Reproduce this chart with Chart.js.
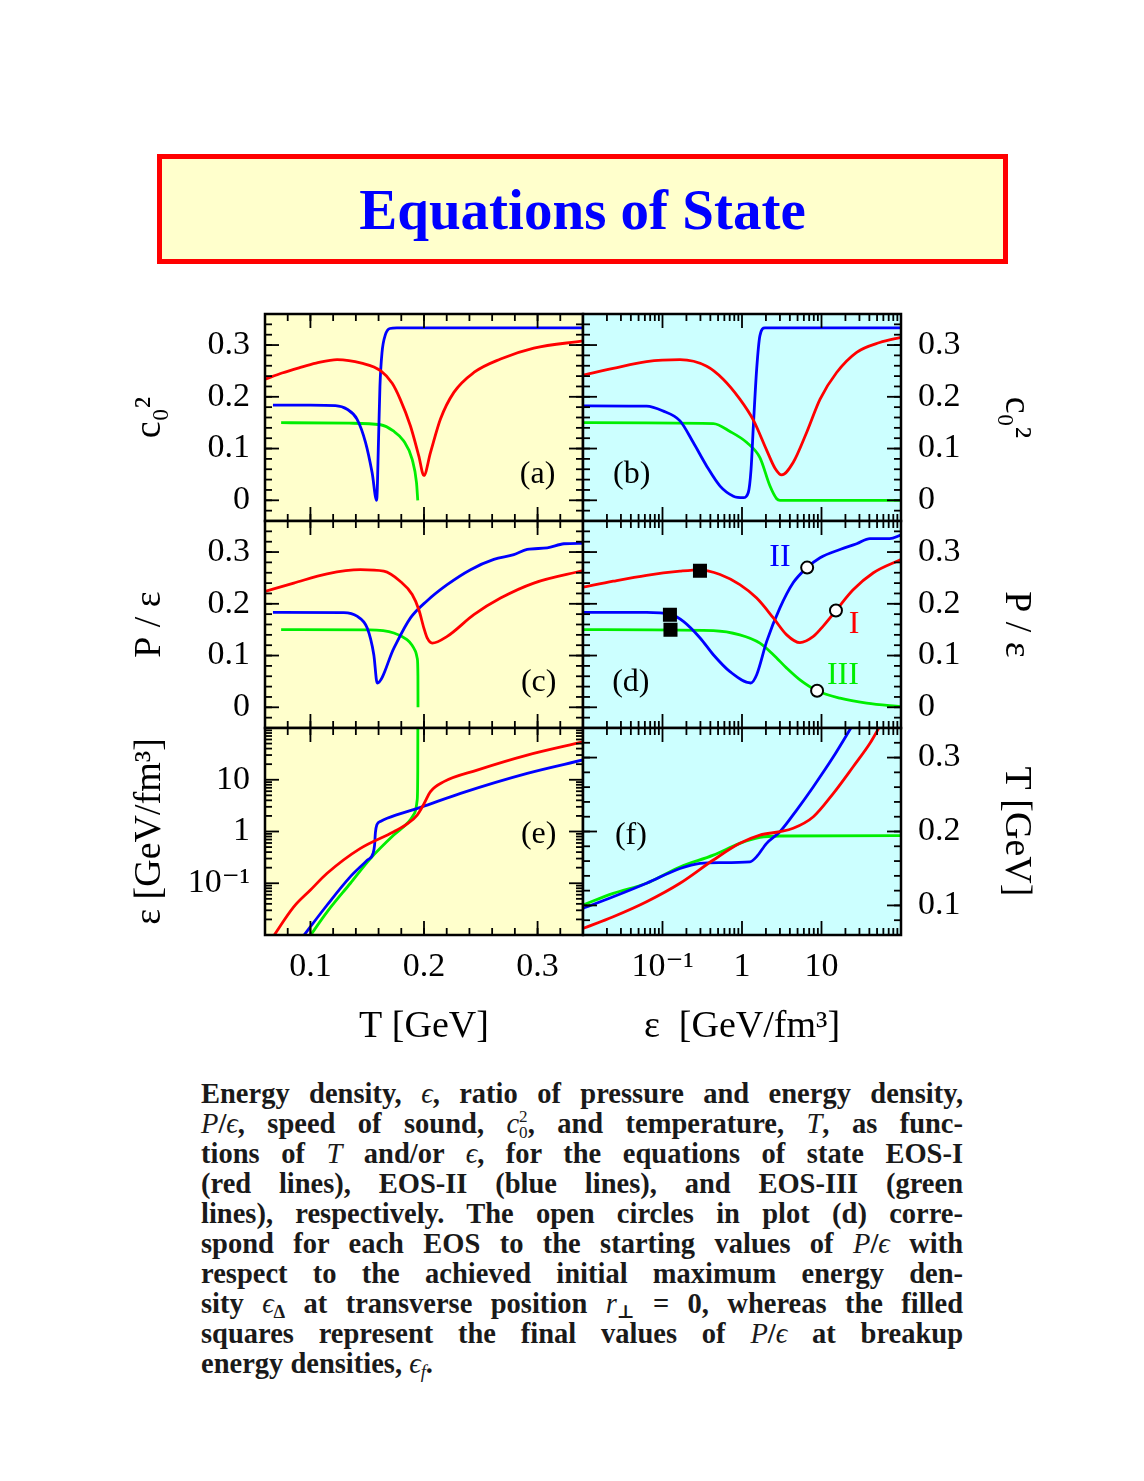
<!DOCTYPE html>
<html>
<head>
<meta charset="utf-8">
<script src="https://cdn.jsdelivr.net/npm/chart.js@4.4.0/dist/chart.umd.min.js"></script>
<style>
html,body{margin:0;padding:0;background:#fff;}
body{width:1144px;height:1481px;position:relative;overflow:hidden;font-family:"Liberation Serif","DejaVu Serif",serif;}
#titlebox{position:absolute;left:157px;top:154px;width:851px;height:110px;box-sizing:border-box;border:5px solid #ff0000;background:#ffffcc;display:flex;align-items:center;justify-content:center;}
#titlebox span{color:#0000ff;font-weight:bold;font-size:57px;line-height:1;}
canvas.panel{position:absolute;left:100px;top:290px;}
#caption{position:absolute;left:201px;top:1079px;width:762px;font-size:28.5px;font-weight:bold;line-height:30px;color:#1a1a1a;}
#caption div{text-align:justify;text-align-last:justify;height:30px;white-space:nowrap;}
#caption div.last{text-align-last:left;}
#caption i{font-weight:normal;}
#caption sub{font-size:65%;line-height:0;vertical-align:-0.25em;}
.ss{display:inline-block;vertical-align:-0.3em;font-size:60%;line-height:0.95;font-weight:normal;}
.ss span{display:block;}
</style>
</head>
<body>
<div id="titlebox"><span>Equations of State</span></div>

<div id="caption">
<div>Energy density, <i>ϵ</i>, ratio of pressure and energy density,</div>
<div><i>P</i>/<i>ϵ</i>, speed of sound, <i>c</i><span class="ss"><span>2</span><span>0</span></span>, and temperature, <i>T</i>, as func-</div>
<div>tions of <i>T</i> and/or <i>ϵ</i>, for the equations of state EOS-I</div>
<div>(red lines), EOS-II (blue lines), and EOS-III (green</div>
<div>lines), respectively. The open circles in plot (d) corre-</div>
<div>spond for each EOS to the starting values of <i>P</i>/<i>ϵ</i> with</div>
<div>respect to the achieved initial maximum energy den-</div>
<div>sity <i>ϵ</i><sub>Δ</sub> at transverse position <i>r</i><sub>⊥</sub> = 0, whereas the filled</div>
<div>squares represent the final values of <i>P</i>/<i>ϵ</i> at breakup</div>
<div class="last">energy densities, <i>ϵ<sub>f</sub></i>.</div>
</div>

<script>
// ---------------- tick labels ----------------
const tTickVals = [0.1, 0.2, 0.3];
const tTickLabels = ['0.1', '0.2', '0.3'];
const ratioTickVals = [0, 0.1, 0.2, 0.3];
const ratioTickLabels = ['0', '0.1', '0.2', '0.3'];
const epsTickVals = [0.1, 1, 10];
const epsTickLabels = ['10⁻¹', '1', '10'];

// ---------------- (a) c0^2 vs T ----------------
const aRedT  = [0.060, 0.075, 0.090, 0.105, 0.1235, 0.145, 0.162, 0.172, 0.179, 0.188, 0.1954, 0.1999, 0.2057, 0.2145, 0.2263, 0.2439, 0.2674, 0.2967, 0.340];
const aRedC2 = [0.234, 0.246, 0.256, 0.265, 0.272, 0.265, 0.250, 0.226, 0.1955, 0.144, 0.086, 0.048, 0.092, 0.157, 0.2085, 0.247, 0.273, 0.294, 0.308];
const aBlueT  = [0.067, 0.100, 0.122, 0.1323, 0.141, 0.1485, 0.1543, 0.1583, 0.1600, 0.1612, 0.1630, 0.166, 0.170, 0.176, 0.340];
const aBlueC2 = [0.184, 0.184, 0.183, 0.176, 0.157, 0.112, 0.0535, 0.000, 0.120, 0.220, 0.285, 0.320, 0.332, 0.3333, 0.3333];
const aGreenT  = [0.0742, 0.134, 0.1617, 0.173, 0.182, 0.1896, 0.1934, 0.1945];
const aGreenC2 = [0.150, 0.149, 0.146, 0.134, 0.115, 0.079, 0.034, 0.000];

// ---------------- (b) c0^2 vs epsilon ----------------
const bRedE  = [0.01, 0.024, 0.063, 0.166, 0.36, 0.58, 0.94, 1.39, 2.04, 2.6, 3.15, 4.4, 6.5, 9.6, 15.5, 27.7, 54, 100];
const bRedC2 = [0.242, 0.255, 0.268, 0.2717, 0.259, 0.234, 0.1955, 0.155, 0.097, 0.062, 0.049, 0.073, 0.131, 0.1955, 0.247, 0.286, 0.305, 0.315];
const bBlueE  = [0.01, 0.063, 0.1, 0.166, 0.244, 0.36, 0.53, 0.78, 1.04, 1.2, 1.30, 1.39, 1.53, 1.68, 1.94, 100];
const bBlueC2 = [0.1826, 0.182, 0.173, 0.1535, 0.1116, 0.066, 0.0275, 0.008, 0.005, 0.015, 0.060, 0.144, 0.254, 0.318, 0.3333, 0.3333];
const bGreenE  = [0.01, 0.436, 0.706, 1.15, 1.68, 2.25, 2.73, 3.0, 100];
const bGreenC2 = [0.150, 0.148, 0.133, 0.1116, 0.0825, 0.0275, 0.003, 0.0, 0.0];

// ---------------- (c) P/eps vs T ----------------
const cRedT = [0.060, 0.0853, 0.1147, 0.144, 0.1646, 0.179, 0.1896, 0.1954, 0.1999, 0.2028, 0.2072, 0.2204, 0.2439, 0.2674, 0.2967, 0.340];
const cRedP = [0.224, 0.240, 0.258, 0.266, 0.263, 0.2436, 0.218, 0.189, 0.153, 0.134, 0.124, 0.137, 0.179, 0.211, 0.240, 0.264];
const cBlueT = [0.067, 0.1294, 0.141, 0.150, 0.1558, 0.1588, 0.1735, 0.1881, 0.2028, 0.2204, 0.241, 0.2615, 0.2791, 0.2909, 0.3085, 0.3232, 0.340];
const cBlueP = [0.1836, 0.183, 0.176, 0.153, 0.1016, 0.047, 0.1145, 0.1727, 0.206, 0.237, 0.266, 0.2857, 0.295, 0.305, 0.308, 0.316, 0.317];
const cGreenT = [0.0742, 0.152, 0.1735, 0.185, 0.1895, 0.1925, 0.1941, 0.19465, 0.19472];
const cGreenP = [0.150, 0.1496, 0.1436, 0.1306, 0.120, 0.108, 0.094, 0.060, 0.0];

// ---------------- (d) P/eps vs epsilon ----------------
const dRedE = [0.01, 0.024, 0.063, 0.166, 0.297, 0.53, 0.94, 1.53, 2.48, 3.65, 5.36, 7.9, 10.5, 15.2, 25, 45, 100];
const dRedP = [0.232, 0.2436, 0.255, 0.263, 0.2657, 0.2566, 0.237, 0.211, 0.1727, 0.140, 0.125, 0.137, 0.157, 0.187, 0.227, 0.26, 0.2857];
const dBlueE = [0.01, 0.063, 0.124, 0.183, 0.297, 0.436, 0.706, 1.29, 1.53, 2.04, 3.0, 4.4, 6.6, 9.6, 17.1, 27.7, 40.7, 72, 100];
const dBlueP = [0.1836, 0.1836, 0.180, 0.166, 0.134, 0.1016, 0.069, 0.047, 0.063, 0.127, 0.192, 0.2405, 0.270, 0.289, 0.305, 0.316, 0.326, 0.326, 0.333];
const dGreenE = [0.01, 0.436, 0.94, 1.68, 2.48, 3.65, 5.36, 8.8, 17.1, 37, 100];
const dGreenP = [0.150, 0.148, 0.140, 0.124, 0.1016, 0.0757, 0.053, 0.032, 0.0176, 0.008, 0.0014];
const dSquareE = [0.296, 0.124, 0.126];   // final values (red, blue, green)
const dSquareP = [0.264, 0.179, 0.150];
const dCircleE = [15.2, 6.6, 8.8];        // starting values (red, blue, green)
const dCircleP = [0.187, 0.270, 0.032];

// ---------------- (e) eps vs T ----------------
const eRedT = [0.066, 0.0853, 0.1000, 0.1147, 0.144, 0.1734, 0.1852, 0.194, 0.1999, 0.2057, 0.2175, 0.2468, 0.2909, 0.340];
const eRedE = [0.0085, 0.035, 0.074, 0.156, 0.473, 0.99, 1.40, 2.08, 3.4, 5.9, 9.2, 15.4, 30, 54];
const eBlueT = [0.092, 0.1147, 0.1352, 0.150, 0.1552, 0.1565, 0.1572, 0.1585, 0.1620, 0.1675, 0.197, 0.2322, 0.2909, 0.340];
const eBlueE = [0.0085, 0.038, 0.134, 0.28, 0.38, 0.55, 0.95, 1.35, 1.58, 1.80, 2.93, 5.47, 13.3, 24.1];
const eGreenT = [0.098, 0.1147, 0.1352, 0.1528, 0.1734, 0.1866, 0.1916, 0.194, 0.1945, 0.1946];
const eGreenE = [0.0085, 0.028, 0.10, 0.30, 0.855, 1.55, 2.24, 4.06, 15, 150];

// ---------------- (f) T vs eps ----------------
const fRedE = [0.01, 0.024, 0.063, 0.166, 0.436, 0.94, 1.68, 3.0, 4.4, 7.9, 14.1, 25, 40.7, 56];
const fRedT = [0.0689, 0.0847, 0.105, 0.130, 0.1614, 0.184, 0.1952, 0.1997, 0.2043, 0.22, 0.2516, 0.2876, 0.3193, 0.345];
const fBlueE = [0.01, 0.024, 0.063, 0.166, 0.297, 0.53, 1.26, 1.53, 2.04, 3.0, 4.87, 7.9, 14.1, 25];
const fBlueT = [0.096, 0.1117, 0.130, 0.150, 0.157, 0.158, 0.159, 0.166, 0.184, 0.1997, 0.229, 0.2606, 0.301, 0.345];
const fGreenE = [0.01, 0.024, 0.063, 0.166, 0.436, 0.94, 1.68, 3.0, 100];
const fGreenT = [0.1005, 0.1163, 0.130, 0.152, 0.168, 0.184, 0.192, 0.1939, 0.1945];

// ---------------- styling / layout ----------------
const RED = '#ff0000', BLUE = '#0000ff', GREEN = '#00ee00';
const BG_L = '#ffffcc', BG_R = '#ccffff';
const FONT = "'Liberation Serif', 'DejaVu Serif', serif";
const CANVAS = {left: 100, top: 290, w: 960, h: 770};
const COLS = {L: [265, 583], R: [583, 901]};
const ROWS = [[314, 521], [521, 728], [728, 935]];
const T_RANGE = [0.06, 0.34], R_RANGE = [-0.04, 0.36], E_RANGE = [0.01, 100];

function series(xs, ys, color) {
  return {data: xs.map((x, i) => ({x, y: ys[i]})), borderColor: color, borderWidth: 2.8,
    pointRadius: 0, fill: false, cubicInterpolationMode: 'monotone', order: 1};
}
function markers(xs, ys, style) {
  return {data: xs.map((x, i) => ({x, y: ys[i]})), showLine: false, order: 0,
    pointStyle: style, pointRadius: style === 'rect' ? 8.5 : 6, pointBorderWidth: 2,
    pointBackgroundColor: style === 'rect' ? '#000' : '#fff', pointBorderColor: '#000'};
}
function linMinor(r, step) {
  const out = [];
  for (let k = Math.ceil(r[0] / step - 1e-9); k * step <= r[1] + 1e-9; k++) {
    const v = +(k * step).toFixed(6);
    if (v > r[0] + 1e-9 && v < r[1] - 1e-9) out.push(v);
  }
  return out;
}
function logMinor(r) {
  const out = [];
  for (let e = Math.round(Math.log10(r[0])); e < Math.round(Math.log10(r[1])); e++) {
    for (let k = 2; k <= 9; k++) out.push(k * Math.pow(10, e));
  }
  return out;
}
function logMajor(r) {
  const out = [];
  for (let e = Math.round(Math.log10(r[0])) + 1; e < Math.round(Math.log10(r[1])); e++) out.push(Math.pow(10, e));
  return out;
}
const AX = {
  T: {type: 'linear', range: T_RANGE, major: tTickVals, minor: linMinor(T_RANGE, 0.02), vals: tTickVals, labels: tTickLabels},
  R: {type: 'linear', range: R_RANGE, major: ratioTickVals, minor: linMinor(R_RANGE, 0.02), vals: ratioTickVals, labels: ratioTickLabels},
  E: {type: 'logarithmic', range: E_RANGE, major: logMajor(E_RANGE), minor: logMinor(E_RANGE), vals: epsTickVals, labels: epsTickLabels}
};
function zeroPad(s) { s.paddingLeft = 0; s.paddingRight = 0; s.paddingTop = 0; s.paddingBottom = 0; }

function makePanel(cfg) {
  const cv = document.createElement('canvas');
  cv.width = CANVAS.w; cv.height = CANVAS.h; cv.className = 'panel';
  document.body.appendChild(cv);
  const [cl, cr] = COLS[cfg.col];
  const [rt, rb] = ROWS[cfg.row];
  const showX = cfg.row === 2;
  const yLeft = cfg.col === 'L';
  const yAxisW = yLeft ? cl - CANVAS.left : CANVAS.left + CANVAS.w - cr;
  const xAxisH = showX ? CANVAS.top + CANVAS.h - rb : 0;
  const pad = {
    left: yLeft ? 0 : cl - CANVAS.left,
    right: yLeft ? CANVAS.left + CANVAS.w - cr : 0,
    top: rt - CANVAS.top,
    bottom: showX ? 0 : CANVAS.top + CANVAS.h - rb
  };
  const xa = AX[cfg.x], ya = AX[cfg.y];
  const tickFont = {family: FONT, size: 34};
  const titleFont = {family: FONT, size: 38};

  const deco = {
    id: 'deco' + cfg.name,
    beforeDraw(chart) {
      const {ctx, chartArea: a} = chart;
      ctx.save(); ctx.fillStyle = cfg.bg;
      ctx.fillRect(a.left, a.top, a.right - a.left, a.bottom - a.top); ctx.restore();
    },
    afterDatasetsDraw(chart) {
      const {ctx, chartArea: a, scales: {x, y}} = chart;
      ctx.save();
      ctx.strokeStyle = '#000'; ctx.lineWidth = 1.8; ctx.lineCap = 'butt';
      const seg = (x1, y1, x2, y2) => { ctx.beginPath(); ctx.moveTo(x1, y1); ctx.lineTo(x2, y2); ctx.stroke(); };
      const MAJ = 14, MIN = 7;
      [[xa.major, MAJ], [xa.minor, MIN]].forEach(([vals, len]) => vals.forEach(v => {
        const p = x.getPixelForValue(v);
        seg(p, a.top, p, a.top + len); seg(p, a.bottom, p, a.bottom - len);
      }));
      [[ya.major, MAJ], [ya.minor, MIN]].forEach(([vals, len]) => vals.forEach(v => {
        const p = y.getPixelForValue(v);
        seg(a.left, p, a.left + len, p); seg(a.right, p, a.right - len, p);
      }));
      ctx.lineWidth = 2.5;
      ctx.strokeRect(a.left, a.top, a.right - a.left, a.bottom - a.top);
      ctx.textAlign = 'center'; ctx.textBaseline = 'middle';
      (cfg.notes || []).forEach(n => {
        ctx.fillStyle = n.color || '#000';
        ctx.font = '32px ' + FONT;
        ctx.fillText(n.text, x.getPixelForValue(n.x), y.getPixelForValue(n.y));
      });
      ctx.restore();
    }
  };

  new Chart(cv, {
    type: 'line',
    data: {datasets: cfg.datasets},
    plugins: [deco],
    options: {
      responsive: false, animation: false, devicePixelRatio: 1,
      layout: {padding: pad},
      plugins: {legend: {display: false}, tooltip: {enabled: false}},
      scales: {
        x: {
          type: xa.type, min: xa.range[0], max: xa.range[1], display: showX, position: 'bottom',
          grid: {display: false, drawTicks: false}, border: {display: false},
          ticks: {autoSkip: false, maxRotation: 0, minRotation: 0, padding: 12, color: '#000', font: tickFont,
            callback: (v, i) => xa.labels[i]},
          afterBuildTicks: s => { s.ticks = xa.vals.map(v => ({value: v})); },
          afterFit: s => { if (showX) { s.height = xAxisH; zeroPad(s); } },
          title: {display: !!cfg.xTitle, text: cfg.xTitle || '', color: '#000', font: titleFont, padding: {top: 0, bottom: 10}}
        },
        y: {
          type: ya.type, min: ya.range[0], max: ya.range[1], position: yLeft ? 'left' : 'right',
          grid: {display: false, drawTicks: false}, border: {display: false},
          ticks: {autoSkip: false, padding: yLeft ? 15 : 17, color: '#000', font: tickFont,
            callback: (v, i) => ya.labels[i]},
          afterBuildTicks: s => { s.ticks = ya.vals.map(v => ({value: v})); },
          afterFit: s => { s.width = yAxisW; zeroPad(s); },
          title: {display: true, text: cfg.yTitle, color: '#000', font: titleFont, padding: {top: yLeft ? 27 : 21, bottom: 0}}
        }
      }
    }
  });
}

makePanel({name: 'a', col: 'L', row: 0, x: 'T', y: 'R', bg: BG_L, yTitle: 'c₀²',
  datasets: [series(aRedT, aRedC2, RED), series(aBlueT, aBlueC2, BLUE), series(aGreenT, aGreenC2, GREEN)],
  notes: [{text: '(a)', x: 0.300, y: 0.050}]});
makePanel({name: 'b', col: 'R', row: 0, x: 'E', y: 'R', bg: BG_R, yTitle: 'c₀²',
  datasets: [series(bRedE, bRedC2, RED), series(bBlueE, bBlueC2, BLUE), series(bGreenE, bGreenC2, GREEN)],
  notes: [{text: '(b)', x: 0.041, y: 0.050}]});
makePanel({name: 'c', col: 'L', row: 1, x: 'T', y: 'R', bg: BG_L, yTitle: 'P / ε',
  datasets: [series(cRedT, cRedP, RED), series(cBlueT, cBlueP, BLUE), series(cGreenT, cGreenP, GREEN)],
  notes: [{text: '(c)', x: 0.301, y: 0.047}]});
makePanel({name: 'd', col: 'R', row: 1, x: 'E', y: 'R', bg: BG_R, yTitle: 'P / ε',
  datasets: [markers(dSquareE, dSquareP, 'rect'), markers(dCircleE, dCircleP, 'circle'),
    series(dRedE, dRedP, RED), series(dBlueE, dBlueP, BLUE), series(dGreenE, dGreenP, GREEN)],
  notes: [{text: '(d)', x: 0.040, y: 0.047}, {text: 'II', x: 3.0, y: 0.290, color: BLUE},
    {text: 'I', x: 25.6, y: 0.160, color: RED}, {text: 'III', x: 18.6, y: 0.061, color: GREEN}]});
makePanel({name: 'e', col: 'L', row: 2, x: 'T', y: 'E', bg: BG_L, yTitle: 'ε [GeV/fm³]', xTitle: 'T [GeV]',
  datasets: [series(eRedT, eRedE, RED), series(eBlueT, eBlueE, BLUE), series(eGreenT, eGreenE, GREEN)],
  notes: [{text: '(e)', x: 0.301, y: 0.855}]});
makePanel({name: 'f', col: 'R', row: 2, x: 'E', y: 'T', bg: BG_R, yTitle: 'T [GeV]', xTitle: 'ε  [GeV/fm³]',
  datasets: [series(fRedE, fRedT, RED), series(fBlueE, fBlueT, BLUE), series(fGreenE, fGreenT, GREEN)],
  notes: [{text: '(f)', x: 0.040, y: 0.195}]});
</script>
</body>
</html>
